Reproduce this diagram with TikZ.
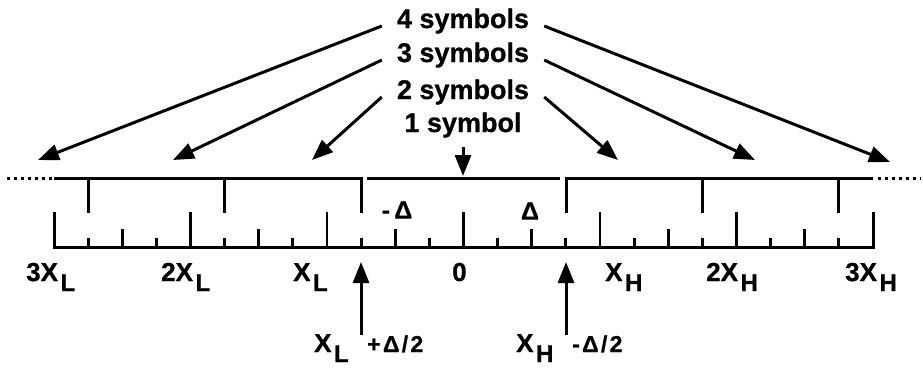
\documentclass[tikz,border=0pt]{standalone}
\usepackage{fontspec}
\setmainfont{Liberation Sans}
\newfontfamily\lblfont[FakeBold=0.8]{Liberation Sans}
\newfontfamily\spacedlbl[FakeBold=0.8,LetterSpace=10]{Liberation Sans}
\usetikzlibrary{arrows.meta}
\newcommand\lowsub[1]{\kern2.5pt\raisebox{-10pt}{\fontsize{24}{24}\selectfont #1}}
\begin{document}
\begin{tikzpicture}[x=1pt,y=-1pt,
  axis/.style={line width=3pt},
  tickline/.style={line width=2.8pt},
  dots/.style={line width=3pt, dash pattern=on 2.6pt off 4.4pt},
  arr/.style={line width=3pt, -{Triangle[length=21pt,width=16pt]}},
  toplbl/.style={font={\lblfont\bfseries\fontsize{27}{30}\selectfont}, inner sep=0pt, anchor=base},
  botlbl/.style={font={\lblfont\bfseries\fontsize{26}{30}\selectfont}, inner sep=0pt, anchor=base west},
  small/.style={font={\spacedlbl\bfseries\fontsize{23}{26}\selectfont}, inner sep=0pt, anchor=base west},
  delta/.style={font={\lblfont\bfseries\fontsize{25}{28}\selectfont}, inner sep=0pt}]
\useasboundingbox (0,0) rectangle (923,370);

% symbol-count labels
\node[toplbl] (t4) at (463,28) {4 symbols};
\node[toplbl] (t3) at (463,62) {3 symbols};
\node[toplbl] (t2) at (463,99) {2 symbols};
\node[toplbl] (t1) at (463,132) {1 symbol};

% arrow tips on the upper line
\coordinate (l4) at (38,160);
\coordinate (l3) at (173,160);
\coordinate (l2) at (312,160);
\coordinate (r2) at (618,160);
\coordinate (r3) at (755,160);
\coordinate (r4) at (890,162);
\coordinate (c1) at (463,176);

\draw[arr] ([xshift=-15pt,yshift=-5pt]t4.west) -- (l4);
\draw[arr] ([xshift=-15pt,yshift=-5pt]t3.west) -- (l3);
\draw[arr] ([xshift=-15pt,yshift=-5pt]t2.west) -- (l2);
\draw[arr] ([xshift=15pt,yshift=-5pt]t4.east) -- (r4);
\draw[arr] ([xshift=15pt,yshift=-5pt]t3.east) -- (r3);
\draw[arr] ([xshift=15pt,yshift=-5pt]t2.east) -- (r2);
\draw[arr] ([yshift=-9pt]t1.south) -- (c1);

% upper (quantizer) staircase line
\draw[dots] (7,178) -- (54,178);
\draw[axis] (54,178) -- (361,178) -- (361,213);
\draw[axis] (367,178) -- (560,178);
\draw[axis] (566,213) -- (566,178) -- (873,178);
\draw[dots] (878,178) -- (921,178);
\foreach \i in {-11,-7,7,11}{
  \pgfmathsetmacro\tx{463.5+34.125*\i}
  \draw[axis] (\tx,178) -- (\tx,213);
}

% lower ruler
\draw[axis] (54,212) -- (54,247) -- (873,247) -- (873,212);
\foreach \i in {-11,...,11}{
  \pgfmathsetmacro\tx{463.5+34.125*\i}
  \pgfmathsetmacro\ty{ifthenelse(mod(abs(\i),4)==0,212,ifthenelse(mod(abs(\i),2)==0,229,238))}
  \draw[tickline] (\tx,247) -- (\tx,\ty);
}

% step labels
\node[delta] (dm) at (397,210) {-\,Δ};
\node[delta] (dp) at (530,211) {Δ};

% ruler labels
\node[botlbl] (x3l) at (26,281) {3X\lowsub{L}};
\node[botlbl] (x2l) at (161,281) {2X\lowsub{L}};
\node[botlbl] (x1l) at (293,281) {X\lowsub{L}};
\node[botlbl] (x0)  at (452,281) {0};
\node[botlbl] (x1h) at (605,281) {X\lowsub{H}};
\node[botlbl] (x2h) at (706,281) {2X\lowsub{H}};
\node[botlbl] (x3h) at (845,281) {3X\lowsub{H}};

% threshold labels and arrows
\node[botlbl] (bl) at (314,352) {X\lowsub{L}};
\node[small] (blx) at (367,352) {+Δ/2};
\node[botlbl] (bh) at (516,352) {X\lowsub{H}};
\node[small] (bhx) at (572,352) {-Δ/2};
\coordinate (al) at (361,262);
\coordinate (ah) at (566,262);
\draw[arr] (361,335) -- (al);
\draw[arr] (566,335) -- (ah);
\end{tikzpicture}
\end{document}
